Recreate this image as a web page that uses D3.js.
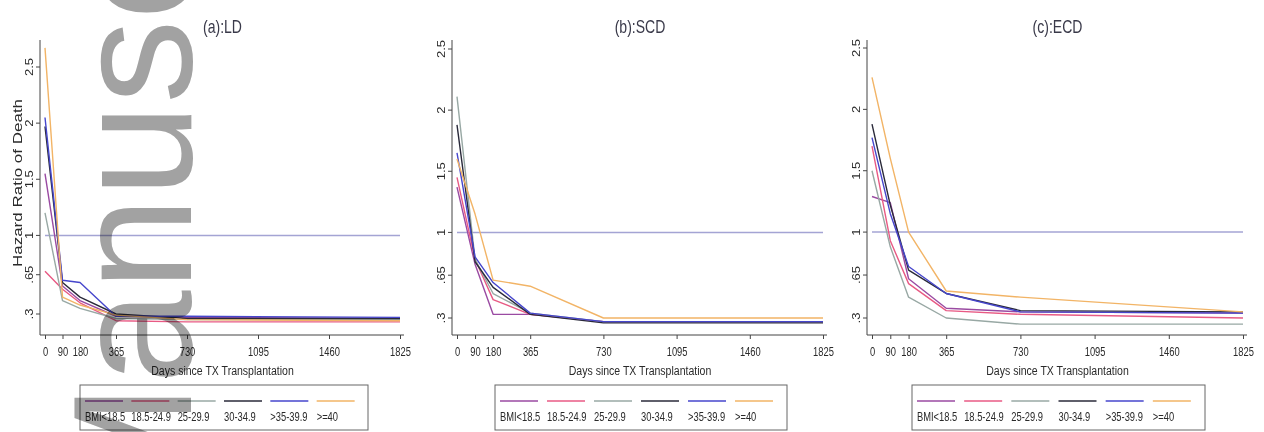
<!DOCTYPE html>
<html>
<head>
<meta charset="utf-8">
<script src="https://cdn.jsdelivr.net/npm/d3@7"></script>
<style>
  body { margin: 0; background: #fff; }
  svg { display: block; }
  text { font-family: "Liberation Sans", Arial, sans-serif; }
</style>
</head>
<body>
<main></main>
<script>
// time knots (days since transplant)
const days = [0, 90, 180, 365, 730, 1825]
const groups = ['BMI<18.5', '18.5-24.9', '25-29.9', '30-34.9', '>35-39.9', '>=40']
const colors = ['#9a4aa2', '#e85a84', '#98a8a4', '#2a2a3a', '#4646cc', '#f2b466']
const xTicks = [0, 90, 180, 365, 730, 1095, 1460, 1825]
const yTicks = [2.5, 2, 1.5, 1, 0.65, 0.3]
const yTickLabels = ['2.5', '2', '1.5', '1', '.65', '.3']

// hazard ratios per BMI group
const ldValues = [
  [1.55, 0.55, 0.42, 0.28, 0.27, 0.26],
  [0.68, 0.52, 0.40, 0.24, 0.23, 0.23],
  [1.20, 0.42, 0.35, 0.26, 0.25, 0.25],
  [1.97, 0.58, 0.45, 0.30, 0.26, 0.26],
  [2.05, 0.60, 0.58, 0.28, 0.28, 0.27],
  [2.67, 0.45, 0.38, 0.29, 0.25, 0.24]
]
const scdValues = [
  [1.37, 0.74, 0.33, 0.33, 0.27, 0.27],
  [1.45, 0.78, 0.45, 0.33, 0.27, 0.27],
  [2.11, 0.78, 0.50, 0.34, 0.27, 0.27],
  [1.88, 0.76, 0.55, 0.33, 0.26, 0.26],
  [1.65, 0.80, 0.59, 0.34, 0.27, 0.27],
  [1.60, 1.15, 0.61, 0.56, 0.30, 0.30]
]
const ecdValues = [
  [1.29, 1.24, 0.62, 0.38, 0.35, 0.34],
  [1.70, 0.93, 0.58, 0.36, 0.33, 0.30],
  [1.50, 0.88, 0.47, 0.30, 0.25, 0.25],
  [1.88, 1.22, 0.69, 0.50, 0.36, 0.35],
  [1.77, 1.15, 0.72, 0.50, 0.35, 0.34],
  [2.26, 1.60, 1.00, 0.52, 0.47, 0.35]
]

const panels = [
  { title: '(a):LD', values: ldValues, axisX: 40, x0: 45, x1: 400, y25: 67, y03: 314, legendX: 80, legendW: 288, yTitle: true },
  { title: '(b):SCD', values: scdValues, axisX: 452, x0: 457, x1: 823, y25: 49, y03: 318, legendX: 495, legendW: 292, yTitle: false },
  { title: '(c):ECD', values: ecdValues, axisX: 867, x0: 872, x1: 1243, y25: 48, y03: 318, legendX: 912, legendW: 293, yTitle: false }
]

// the source picture is squeezed sideways, so all glyphs are narrowed
const SQ = 0.78

const svg = d3.select('main')
  .append('svg')
  .attr('width', 1264)
  .attr('height', 432)

panels.forEach(drawPanel)
drawWatermark()

function label (parent, x, y, txt, size, anchor) {
  return parent.append('text')
    .attr('transform', 'translate(' + x + ',' + y + ') scale(' + SQ + ',1)')
    .attr('text-anchor', anchor || 'start')
    .style('font-size', size + 'px')
    .style('fill', '#2a2a2a')
    .text(txt)
}

function drawPanel (p) {
  const g = svg.append('g')
  const x = d3.scaleLinear().domain([0, 1825]).range([p.x0, p.x1])
  const y = d3.scaleLinear().domain([0.3, 2.5]).range([p.y03, p.y25])
  const axisY = 335
  const topY = 40

  // axis lines
  g.append('line')
    .attr('x1', p.axisX).attr('x2', p.axisX)
    .attr('y1', topY).attr('y2', axisY)
    .style('stroke', '#444').style('stroke-width', 1)
  g.append('line')
    .attr('x1', p.axisX).attr('x2', p.x1 + 4)
    .attr('y1', axisY).attr('y2', axisY)
    .style('stroke', '#444').style('stroke-width', 1)

  const xAxis = g.append('g')
    .attr('transform', 'translate(0,' + axisY + ')')
    .call(d3.axisBottom(x).tickValues(xTicks).tickSize(4).tickPadding(8).tickSizeOuter(0).tickFormat(d3.format('d')))
  xAxis.select('.domain').remove()
  xAxis.selectAll('line').style('stroke', '#444')
  xAxis.selectAll('text')
    .attr('transform', 'scale(' + SQ + ',1)')
    .style('font-size', '12px').style('fill', '#2a2a2a')

  const yAxis = g.append('g')
    .attr('transform', 'translate(' + p.axisX + ',0)')
    .call(d3.axisLeft(y).tickValues(yTicks).tickSize(4).tickSizeOuter(0).tickFormat((d, i) => yTickLabels[i]))
  yAxis.select('.domain').remove()
  // rotated labels need their own position, not the tick group offset
  yAxis.selectAll('.tick').attr('transform', null)
  yAxis.selectAll('.tick line')
    .attr('y1', d => y(d)).attr('y2', d => y(d))
    .style('stroke', '#444')
  yAxis.selectAll('text')
    .attr('x', null).attr('dy', null).attr('y', 0)
    .attr('text-anchor', 'middle')
    .attr('transform', d => 'translate(-7,' + y(d) + ') scale(' + SQ + ',1) rotate(-90)')
    .style('font-size', '13px').style('fill', '#2a2a2a')

  // reference line at HR = 1
  g.append('line')
    .attr('x1', x(0)).attr('x2', x(1825))
    .attr('y1', y(1)).attr('y2', y(1))
    .style('stroke', '#a4a4d4').style('stroke-width', 1.5)

  const line = d3.line()
    .x((d, i) => x(days[i]))
    .y(d => y(d))

  g.selectAll('.series')
    .data(p.values)
    .enter()
    .append('path')
    .attr('class', 'series')
    .attr('d', d => line(d))
    .style('fill', 'none')
    .style('stroke', (d, i) => colors[i])
    .style('stroke-width', 1.4)
    .style('stroke-linejoin', 'round')

  // titles
  label(g, (p.x0 + p.x1) / 2, 33, p.title, 18, 'middle').style('fill', '#3a3a4a')
  label(g, (p.x0 + p.x1) / 2, 375, 'Days since TX Transplantation', 13.5, 'middle')
  if (p.yTitle) {
    g.append('text')
      .attr('transform', 'translate(22,183) scale(' + SQ + ',1) rotate(-90)')
      .attr('text-anchor', 'middle')
      .style('font-size', '17px')
      .style('fill', '#2a2a2a')
      .text('Hazard Ratio of Death')
  }

  // legend
  const lg = g.append('g').attr('transform', 'translate(' + p.legendX + ',385)')
  lg.append('rect')
    .attr('width', p.legendW)
    .attr('height', 45)
    .style('fill', '#fff')
    .style('stroke', '#666')
    .style('stroke-width', 1)
  const colW = (p.legendW - 10) / 6
  groups.forEach(function (name, i) {
    const cx = 5 + i * colW
    lg.append('line')
      .attr('x1', cx).attr('x2', cx + 38)
      .attr('y1', 16).attr('y2', 16)
      .style('stroke', colors[i])
      .style('stroke-width', 1.5)
    label(lg, cx, 36, name, 12)
  })
}

function drawWatermark () {
  // grey stamp laid over the figure; multiply keeps dark marks visible below it
  svg.append('text')
    .attr('transform', 'translate(191,524) rotate(-90)')
    .style('font-family', '"Liberation Sans", Arial, sans-serif')
    .style('font-size', '168px')
    .style('fill', '#a2a2a2')
    .style('mix-blend-mode', 'multiply')
    .text('Manuscript')
}
</script>
</body>
</html>
